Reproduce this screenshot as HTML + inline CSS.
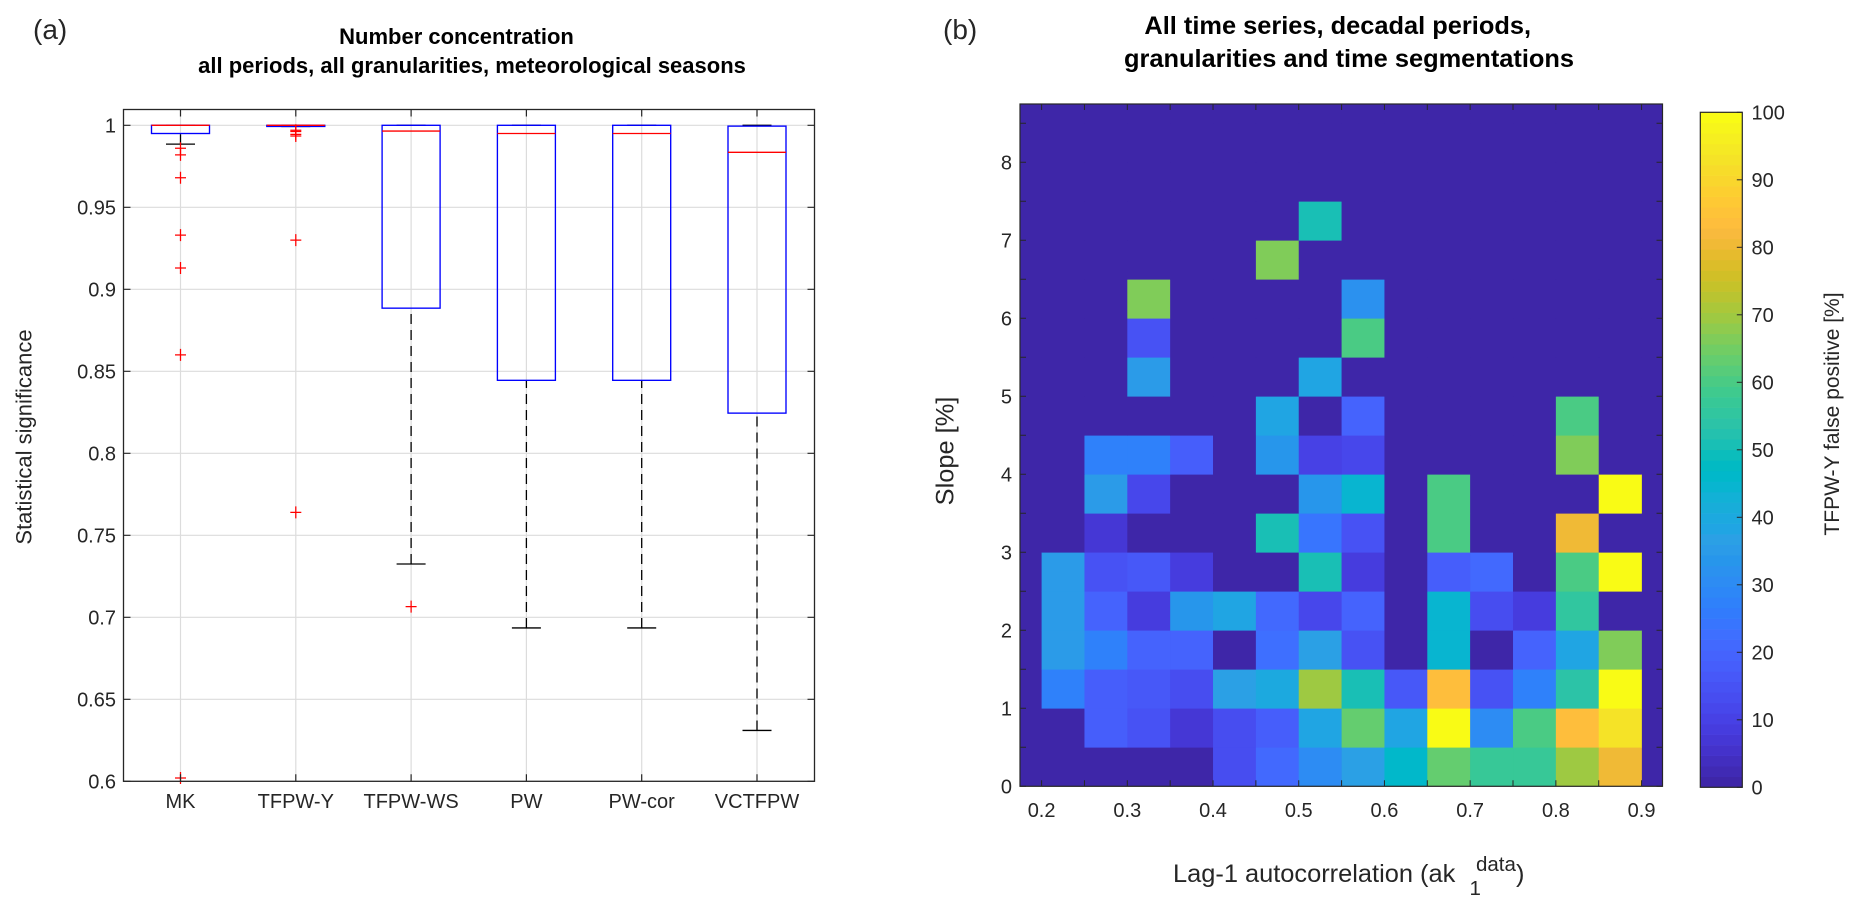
<!DOCTYPE html>
<html lang="en">
<head>
<meta charset="utf-8">
<title>Statistical significance boxplot and false positive heatmap</title>
<style>
html,body{margin:0;padding:0;background:#fff;}
svg{display:block;font-family:"Liberation Sans",Arial,sans-serif;}
text{fill:#262626;}
</style>
</head>
<body>
<svg id="fig" xmlns="http://www.w3.org/2000/svg" width="1859" height="911" viewBox="0 0 1859 911">
  <text x="33" y="39" font-size="28">(a)</text>
  <text x="943" y="39" font-size="28">(b)</text>
  <text x="456.5" y="44" font-size="22" font-weight="bold" text-anchor="middle" style="fill:#000">Number concentration</text>
  <text x="472" y="73" font-size="22" font-weight="bold" text-anchor="middle" style="fill:#000">all periods, all granularities, meteorological seasons</text>
  <text x="1337.7" y="34" font-size="25.4" font-weight="bold" text-anchor="middle" style="fill:#000">All time series, decadal periods,</text>
  <text x="1349" y="67" font-size="25.4" font-weight="bold" text-anchor="middle" style="fill:#000">granularities and time segmentations</text>
  <text transform="translate(31.5,437) rotate(-90)" font-size="22" text-anchor="middle">Statistical significance</text>
  <text transform="translate(953.5,451) rotate(-90)" font-size="25.4" text-anchor="middle">Slope [%]</text>
  <text x="1173" y="882" font-size="25.4">Lag-1 autocorrelation (ak</text>
  <text x="1476" y="871" font-size="20.5">data</text>
  <text x="1469.5" y="895" font-size="20.5">1</text>
  <text x="1516" y="882" font-size="25.4">)</text>
  <text transform="translate(1839,414) rotate(-90)" font-size="21" text-anchor="middle">TFPW-Y false positive [%]</text>
  <g id="panelA"></g>
  <g id="panelB"></g>
  <g id="panelC"></g>
</svg>
<script>
// ---------- boxplot data ----------
const methods = ["MK","TFPW-Y","TFPW-WS","PW","PW-cor","VCTFPW"];
const q1Values = [0.995,0.9993,0.8885,0.8445,0.8445,0.8245];
const medianValues = [1,1,0.9965,0.995,0.995,0.9835];
const q3Values = [1,1,1,1,1,0.9995];
const whiskerLow = [0.9885,0.9993,0.7325,0.6935,0.6935,0.631];
const whiskerHigh = [1,1,1,1,1,1];
const outliers = [
  [0.986,0.982,0.968,0.933,0.913,0.86,0.602],
  [0.997,0.9962,0.9945,0.9935,0.93,0.764],
  [0.7065],
  [],
  [],
  []
];
const boxYTicks = [0.6,0.65,0.7,0.75,0.8,0.85,0.9,0.95,1];
const boxYLabels = ["0.6","0.65","0.7","0.75","0.8","0.85","0.9","0.95","1"];

// ---------- heatmap data (rows bottom to top, slope bins of 0.5; columns from lag-1 = 0.2 in 0.05 bins) ----------
const heatLag = [0.2,0.25,0.3,0.35,0.4,0.45,0.5,0.55,0.6,0.65,0.7,0.75,0.8,0.85];
const heatSlope = [0,0.5,1,1.5,2,2.5,3,3.5,4,4.5,5,5.5,6,6.5,7,7.5,8];
const heatRow00 = [0,0,0,0,13,21,30,36,46,63,57,57,70,81];
const heatRow05 = [0,18,15,7,13,18,38,63,38,100,30,60,83,93];
const heatRow10 = [27,18,16,14,37,40,70,50,17,84,15,28,54,100];
const heatRow15 = [35,27,20,20,0,23,36,15,0,45,0,20,39,66];
const heatRow20 = [35,20,8,33,39,21,12,20,0,45,14,9,55,0];
const heatRow25 = [35,15,17,8,0,0,50,8,0,18,21,0,60,100];
const heatRow30 = [0,7,0,0,0,50,24,15,0,60,0,0,81,0];
const heatRow35 = [0,35,11,0,0,0,33,45,0,60,0,0,0,100];
const heatRow40 = [0,27,27,18,0,34,10,12,0,0,0,0,66,0];
const heatRow45 = [0,0,0,0,0,39,0,19,0,0,0,0,60,0];
const heatRow50 = [0,0,35,0,0,0,39,0,0,0,0,0,0,0];
const heatRow55 = [0,0,15,0,0,0,0,60,0,0,0,0,0,0];
const heatRow60 = [0,0,66,0,0,0,0,32,0,0,0,0,0,0];
const heatRow65 = [0,0,0,0,0,66,0,0,0,0,0,0,0,0];
const heatRow70 = [0,0,0,0,0,0,50,0,0,0,0,0,0,0];
const heatRow75 = [0,0,0,0,0,0,0,0,0,0,0,0,0,0];
const heatRow80 = [0,0,0,0,0,0,0,0,0,0,0,0,0,0];
const heatRows = [heatRow00,heatRow05,heatRow10,heatRow15,heatRow20,heatRow25,heatRow30,heatRow35,heatRow40,heatRow45,heatRow50,heatRow55,heatRow60,heatRow65,heatRow70,heatRow75,heatRow80];
const heatXLabels = ["0.2","0.3","0.4","0.5","0.6","0.7","0.8","0.9"];
const heatYLabels = ["0","1","2","3","4","5","6","7","8"];
const heatXTicks = [0.2,0.25,0.3,0.35,0.4,0.45,0.5,0.55,0.6,0.65,0.7,0.75,0.8,0.85,0.9];
const heatYTicks = [0,0.5,1,1.5,2,2.5,3,3.5,4,4.5,5,5.5,6,6.5,7,7.5,8,8.5];
const colorbarTicks = [0,10,20,30,40,50,60,70,80,90,100];

// ---------- parula colormap ----------
const parula = "3e26a8 402ab4 422ebf 4432cb 4537d5 463cde 4741e5 4747eb 474df0 4752f4 4758f8 465efb 4563fd 4269fe 3e6fff 3875fe 327bfc 2f81fa 2d87f7 2d8cf3 2b91ef 2796eb 2b9be8 2ba0e5 20a5e3 1ca9df 18add9 12b1d6 08b5d0 01b8ca 02bac3 0bbdbc 19bfb5 24c1ae 2cc3a7 31c69f 37c897 3fca8e 4acb84 57cc7a 64cd6f 71cd64 80cc59 8fcb4e 9ec942 abc739 b9c431 c5c22a d1bf27 dcbd29 e6bb2d f0ba36 f8ba3d febe3c fec338 fec934 fccf30 f9d62d f7dc2a f5e327 f5e924 f6ef20 f7f51b f9fb15".split(" ");

// ---------- helpers ----------
const svgNS = "http://www.w3.org/2000/svg";
const panelA = document.getElementById("panelA");
const panelB = document.getElementById("panelB");
const panelC = document.getElementById("panelC");
function mk(parent, tag, attrs, txt) {
  const el = document.createElementNS(svgNS, tag);
  for (const k in attrs) el.setAttribute(k, attrs[k]);
  if (txt !== undefined) el.textContent = txt;
  parent.appendChild(el);
  return el;
}
const axisColor = "#262626";
const tickFont = 20;

// ---------- boxplot axes ----------
const aL = 123.5, aR = 814.5, aT = 109.5, aB = 781.3;
const xA = i => 180.5 + 115.3 * i;
const yA = v => 781.3 - (v - 0.6) * 1640;

boxYTicks.forEach((t, i) => {
  const y = yA(t);
  const g = mk(panelA, "line", {x1:aL, x2:aR, y1:y, y2:y, stroke:"#dcdcdc", "stroke-width":1.2});
  
  
});
methods.forEach((m, i) => {
  const g = mk(panelA, "line", {x1:xA(i), x2:xA(i), y1:aT, y2:aB, stroke:"#dcdcdc", "stroke-width":1.2});
  
  
});

methods.forEach((m, i) => {
  const x = xA(i), hw = 29, cw = 14.5;
  const wl = mk(panelA, "line", {x1:x, x2:x, y1:yA(whiskerLow[i]), y2:yA(q1Values[i]), stroke:"#000", "stroke-width":1.3, "stroke-dasharray":"10 6"});
  
  
  const cap = mk(panelA, "line", {x1:x-cw, x2:x+cw, y1:yA(whiskerLow[i]), y2:yA(whiskerLow[i]), stroke:"#000", "stroke-width":1.3});
  
  
  const capHi = mk(panelA, "line", {x1:x-cw, x2:x+cw, y1:yA(whiskerHigh[i]), y2:yA(whiskerHigh[i]), stroke:"#000", "stroke-width":1.3});
  
  
  const box = mk(panelA, "rect", {x:x-hw, width:2*hw, y:yA(q3Values[i]), height:yA(q1Values[i])-yA(q3Values[i]), fill:"none", stroke:"#0000ff", "stroke-width":1.35});
  
  
  const med = mk(panelA, "line", {x1:x-hw, x2:x+hw, y1:yA(medianValues[i]), y2:yA(medianValues[i]), stroke:"#ff0000", "stroke-width":1.35});
  
  
  outliers[i].forEach(v => {
    const y = yA(v);
    const o = mk(panelA, "path", {d:"M"+(x-5.5)+" "+y+"H"+(x+5.5)+"M"+x+" "+(y-6)+"V"+(y+6), stroke:"#ff0000", "stroke-width":1.25, fill:"none"});
    
    
  });
});

const aFrame = mk(panelA, "rect", {x:aL, y:aT, width:aR-aL, height:aB-aT, fill:"none", stroke:axisColor, "stroke-width":1.3});



boxYTicks.forEach((t, i) => {
  const y = yA(t);
  const p = mk(panelA, "path", {d:"M"+aL+" "+y+"h7M"+aR+" "+y+"h-7", stroke:axisColor, "stroke-width":1.2, fill:"none"});
  
  
  const l = mk(panelA, "text", {x:116, y:y+7, "font-size":tickFont, "text-anchor":"end"}, boxYLabels[i]);
  
  
});
methods.forEach((m, i) => {
  const x = xA(i);
  const p = mk(panelA, "path", {d:"M"+x+" "+aT+"v7M"+x+" "+aB+"v-7", stroke:axisColor, "stroke-width":1.2, fill:"none"});
  
  
  const l = mk(panelA, "text", {x:x, y:808, "font-size":tickFont, "text-anchor":"middle"}, m);
  
  
});

// ---------- heatmap axes ----------
const hL = 1020, hR = 1662.5, hT = 104, hB = 786.3;
const xH = v => 1041.6 + (v - 0.2) * 857.1;
const yH = v => 786.3 - v * 78;
const colorOf = v => "#" + parula[Math.max(0, Math.min(63, Math.floor(v / 100 * 64)))];

const hBg = mk(panelB, "rect", {x:hL, y:hT, width:hR-hL, height:hB-hT, fill:"#" + parula[0]});


const binW = 0.05, binH = 0.5;
heatRows.forEach((row, r) => {
  row.forEach((v, c) => {
    const x0 = xH(heatLag[c]), x1 = xH(heatLag[c] + binW);
    const y0 = yH(heatSlope[r] + binH), y1 = yH(heatSlope[r]);
    const cell = mk(panelB, "rect", {x:x0, y:y0, width:x1-x0+0.3, height:y1-y0+0.3, fill:colorOf(v)});
    
    
  });
});
const hFrame = mk(panelB, "rect", {x:hL, y:hT, width:hR-hL, height:hB-hT, fill:"none", stroke:axisColor, "stroke-width":1.2});


heatXTicks.forEach(t => {
  const x = xH(t);
  const p = mk(panelB, "path", {d:"M"+x+" "+hT+"v6M"+x+" "+hB+"v-6", stroke:axisColor, "stroke-width":1, fill:"none"});
  
  
});
heatYTicks.forEach(t => {
  const y = yH(t);
  const p = mk(panelB, "path", {d:"M"+hL+" "+y+"h6M"+hR+" "+y+"h-6", stroke:axisColor, "stroke-width":1, fill:"none"});
  
  
});
heatXLabels.forEach(s => {
  const l = mk(panelB, "text", {x:xH(parseFloat(s)), y:817, "font-size":tickFont, "text-anchor":"middle"}, s);
  
  
});
heatYLabels.forEach(s => {
  const l = mk(panelB, "text", {x:1012, y:yH(parseFloat(s))+7, "font-size":tickFont, "text-anchor":"end"}, s);
  
  
});

// ---------- colorbar ----------
const cL = 1700.3, cR = 1742.3, cT = 112.3, cB = 787.3;
const yC = v => cB - v / 100 * (cB - cT);
parula.forEach((c, i) => {
  const v0 = i / parula.length * 100, v1 = (i + 1) / parula.length * 100;
  const band = mk(panelC, "rect", {x:cL, width:cR-cL, y:yC(v1), height:yC(v0)-yC(v1)+0.3, fill:"#" + c});
  
  
});
const cFrame = mk(panelC, "rect", {x:cL, y:cT, width:cR-cL, height:cB-cT, fill:"none", stroke:axisColor, "stroke-width":1.2});


colorbarTicks.forEach(t => {
  const y = yC(t);
  const p = mk(panelC, "line", {x1:cR-5.5, x2:cR, y1:y, y2:y, stroke:axisColor, "stroke-width":1});
  
  
  const l = mk(panelC, "text", {x:1751.5, y:y+7, "font-size":tickFont}, String(t));
  
  
});
</script>
</body>
</html>
